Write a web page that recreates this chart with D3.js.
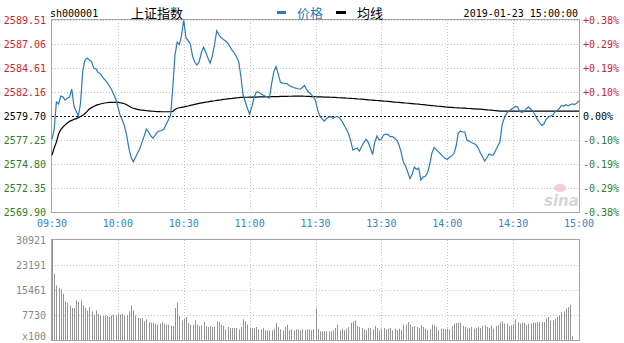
<!DOCTYPE html>
<html>
<head>
<meta charset="utf-8">
<script src="https://cdn.jsdelivr.net/npm/d3@7"></script>
<style>
  body { margin: 0; background: #fff; }
  svg { display: block; }
  text { font-family: "DejaVu Sans Mono", monospace; font-size: 10px; }
  .cjk { font-family: "Noto Sans CJK SC", sans-serif; font-size: 13px; }
</style>
</head>
<body>
<div id="chart"></div>
<script>
const prevClose = 2579.70;
const priceTicks = [2589.51, 2587.06, 2584.61, 2582.16, 2579.70, 2577.25, 2574.80, 2572.35, 2569.90];
const pctLabels = ["+0.38%", "+0.29%", "+0.19%", "+0.10%", "0.00%", "-0.10%", "-0.19%", "-0.29%", "-0.38%"];
const timeLabels = ["09:30", "10:00", "10:30", "11:00", "11:30", "13:30", "14:00", "14:30", "15:00"];
const volTicks = [30921, 23191, 15461, 7730, 0];
const volLabels = ["30921", "23191", "15461", "7730", "x100"];

// one value per minute, 09:30 .. 11:30 | 13:00 .. 15:00
const prices = [
  2577.35, 2578.37, 2581.13, 2580.93, 2581.74, 2581.64, 2581.33, 2581.54, 2581.64, 2582.46,
  2580.72, 2580.21, 2579.70, 2581.03, 2584.30, 2585.42, 2585.62, 2585.42, 2585.27, 2584.60,
  2584.50, 2584.14, 2584.04, 2583.68, 2583.43, 2583.17, 2582.82, 2582.46, 2581.98, 2581.44,
  2580.67, 2579.80, 2579.29, 2578.68, 2577.76, 2576.43, 2575.51, 2575.03, 2575.46, 2575.92,
  2576.38, 2577.04, 2577.66, 2578.37, 2578.07, 2577.66, 2577.45, 2577.76, 2578.07, 2578.17,
  2578.22, 2578.37, 2578.88, 2579.29, 2579.80, 2582.56, 2585.93, 2587.26, 2587.00, 2587.97,
  2589.51, 2587.72, 2587.41, 2587.05, 2585.83, 2585.22, 2584.91, 2585.22, 2586.14, 2586.75,
  2586.24, 2585.62, 2585.11, 2585.83, 2586.95, 2588.41, 2588.00, 2587.72, 2587.53, 2587.36,
  2587.16, 2586.80, 2586.44, 2586.14, 2585.78, 2585.27, 2583.79, 2581.85, 2581.18, 2580.47,
  2579.90, 2580.67, 2581.54, 2582.15, 2582.15, 2582.00, 2581.85, 2581.74, 2581.64, 2581.54,
  2582.97, 2584.19, 2584.76, 2584.04, 2583.17, 2583.07, 2583.04, 2583.02, 2582.82, 2582.71,
  2582.62, 2582.56, 2582.49, 2582.44, 2582.61, 2582.82, 2582.36, 2582.13, 2581.91, 2581.67,
  2581.28, 2580.31, 2579.65, 2579.41, 2579.19, 2579.43, 2579.60, 2579.64, 2579.48, 2579.60,
  2579.65, 2579.50, 2579.19, 2578.78, 2578.37, 2577.91, 2577.25, 2576.23, 2576.33, 2576.43,
  2576.13, 2576.59, 2576.99, 2577.32, 2577.04, 2576.43, 2575.77, 2577.04, 2577.66, 2577.25,
  2577.35, 2577.76, 2577.86, 2577.81, 2577.59, 2577.59, 2577.45, 2577.25, 2576.77, 2576.02,
  2575.00, 2574.59, 2573.98, 2573.32, 2573.72, 2574.49, 2574.24, 2574.39, 2573.16, 2573.47,
  2573.54, 2573.88, 2574.75, 2575.92, 2576.48, 2576.27, 2576.04, 2575.82, 2575.58, 2575.39,
  2575.26, 2575.49, 2575.63, 2575.87, 2576.59, 2577.93, 2578.17, 2578.07, 2578.07, 2577.25,
  2577.12, 2576.99, 2576.89, 2576.79, 2576.48, 2575.97, 2575.56, 2575.10, 2575.41, 2575.82,
  2575.72, 2575.74, 2576.18, 2576.64, 2577.08, 2578.83, 2579.50, 2579.97, 2580.19, 2580.36,
  2580.49, 2580.69, 2580.64, 2580.17, 2580.08, 2580.16, 2580.45, 2580.63, 2580.42, 2580.19,
  2579.80, 2579.36, 2579.04, 2578.75, 2578.88, 2579.37, 2579.57, 2579.71, 2579.78, 2580.11,
  2580.25, 2580.46, 2580.79, 2580.72, 2580.85, 2580.75, 2580.86, 2580.95, 2580.88, 2581.02, 2581.28
];

const avgPrices = [
  2575.72, 2576.43, 2577.04, 2577.86, 2578.32, 2578.58, 2578.80, 2578.99, 2579.16, 2579.26,
  2579.36, 2579.44, 2579.54, 2579.65, 2579.77, 2579.96, 2580.18, 2580.42, 2580.56, 2580.68,
  2580.79, 2580.87, 2580.93, 2580.98, 2581.03, 2581.06, 2581.09, 2581.10, 2581.10, 2581.10,
  2581.09, 2581.06, 2581.02, 2580.96, 2580.86, 2580.72, 2580.60, 2580.50, 2580.44, 2580.38,
  2580.34, 2580.31, 2580.28, 2580.25, 2580.23, 2580.21, 2580.19, 2580.17, 2580.16, 2580.15,
  2580.14, 2580.14, 2580.14, 2580.14, 2580.15, 2580.18, 2580.36, 2580.50, 2580.55, 2580.59,
  2580.63, 2580.68, 2580.73, 2580.79, 2580.84, 2580.90, 2580.95, 2581.00, 2581.04, 2581.08,
  2581.12, 2581.15, 2581.19, 2581.23, 2581.26, 2581.30, 2581.33, 2581.36, 2581.40, 2581.42,
  2581.45, 2581.48, 2581.50, 2581.53, 2581.56, 2581.58, 2581.61, 2581.61, 2581.62, 2581.62,
  2581.63, 2581.63, 2581.64, 2581.64, 2581.65, 2581.65, 2581.66, 2581.66, 2581.67, 2581.67,
  2581.68, 2581.68, 2581.69, 2581.69, 2581.70, 2581.70, 2581.71, 2581.71, 2581.72, 2581.72,
  2581.73, 2581.73, 2581.74, 2581.74, 2581.73, 2581.72, 2581.71, 2581.70, 2581.69, 2581.68,
  2581.67, 2581.66, 2581.66, 2581.65, 2581.64, 2581.63, 2581.63, 2581.62, 2581.61, 2581.60,
  2581.58, 2581.57, 2581.56, 2581.55, 2581.53, 2581.52, 2581.51, 2581.49, 2581.47, 2581.45,
  2581.44, 2581.42, 2581.40, 2581.38, 2581.36, 2581.34, 2581.33, 2581.31, 2581.29, 2581.27,
  2581.25, 2581.23, 2581.21, 2581.19, 2581.17, 2581.15, 2581.13, 2581.11, 2581.09, 2581.07,
  2581.05, 2581.03, 2581.01, 2580.99, 2580.97, 2580.95, 2580.93, 2580.91, 2580.88, 2580.86,
  2580.84, 2580.81, 2580.79, 2580.77, 2580.75, 2580.72, 2580.70, 2580.68, 2580.66, 2580.63,
  2580.61, 2580.59, 2580.58, 2580.56, 2580.55, 2580.54, 2580.52, 2580.51, 2580.50, 2580.48,
  2580.47, 2580.46, 2580.44, 2580.43, 2580.41, 2580.40, 2580.38, 2580.36, 2580.34, 2580.32,
  2580.30, 2580.27, 2580.25, 2580.23, 2580.21, 2580.21, 2580.20, 2580.20, 2580.20, 2580.20,
  2580.20, 2580.20, 2580.20, 2580.20, 2580.20, 2580.20, 2580.20, 2580.20, 2580.20, 2580.20,
  2580.20, 2580.20, 2580.20, 2580.20, 2580.20, 2580.20, 2580.20, 2580.20, 2580.20, 2580.20,
  2580.20, 2580.20, 2580.20, 2580.20, 2580.20, 2580.20, 2580.20, 2580.20, 2580.20, 2580.20, 2580.20
];

// volume, in lots of 100
const volumes = [
  30921, 20511, 16903, 16079, 15667, 14327, 11956, 11544, 10719, 9895,
  9895, 12265, 11750, 12265, 10719, 9895, 9173, 10204, 8864, 7833,
  9173, 8143, 7421, 7421, 7627, 7421, 7112, 7627, 7833, 7627,
  8143, 7833, 8143, 7627, 7627, 8864, 10719, 9173, 7627, 6803,
  6596, 6803, 5772, 6390, 5566, 5360, 5360, 5050, 4741, 5050,
  5566, 5050, 4741, 4741, 4329, 4329, 9895, 11544, 7421, 6081,
  6596, 7112, 5360, 4741, 4741, 6081, 4741, 4329, 4535, 5566,
  4329, 4020, 4329, 4020, 4020, 5772, 5566, 4741, 4329, 3298,
  4020, 3711, 3711, 3711, 3711, 3298, 4020, 6390, 5772, 4741,
  3711, 3711, 3711, 4020, 3298, 3298, 3711, 2989, 2989, 2989,
  2989, 3504, 5257, 4020, 3298, 2989, 4020, 4741, 2989, 3298,
  2989, 3298, 3298, 2989, 3298, 2989, 3298, 3298, 2989, 3298,
  9700, 3504, 2680, 2680, 2680, 2680, 2680, 2680, 2989, 3711,
  4741, 2989, 3504, 2989, 3504, 4020, 5360, 5772, 6081, 4329,
  4020, 3711, 3298, 2989, 3711, 3711, 3298, 4329, 3711, 2989,
  3504, 3711, 3298, 3504, 3711, 2989, 3504, 2989, 3504, 2989,
  4741, 4741, 5566, 4741, 4020, 4329, 4020, 3711, 4535, 4020,
  3504, 2989, 3298, 4741, 4535, 4020, 2989, 3504, 3504, 3298,
  3504, 3298, 4329, 5050, 5257, 5360, 5360, 4329, 4020, 3504,
  3711, 4020, 3504, 3711, 4020, 3711, 4329, 4535, 4020, 3711,
  4535, 3504, 4329, 4535, 5360, 5772, 5050, 5050, 4329, 4535,
  4741, 6390, 5566, 5050, 5360, 5360, 4741, 5050, 5050, 5360,
  5360, 5566, 5566, 5566, 5566, 6596, 7112, 6081, 6081, 6596,
  7112, 7421, 8658, 8864, 9689, 10204, 10925, 1237, 0, 0, 0
];

const W = 624, H = 343;
const left = 52, right = 579;
const priceTop = 20, priceBottom = 212;
const volTop = 240, volBottom = 340;

const red = "#cc1f2f", green = "#2f7d2a", blue = "#2b7bb5", grey = "#888";

const svg = d3.select("#chart").append("svg")
  .attr("width", W)
  .attr("height", H);

const x = d3.scaleLinear().domain([0, prices.length - 1]).range([left, right]);
const y = d3.scaleLinear().domain([priceTicks[priceTicks.length - 1], priceTicks[0]]).range([priceBottom, priceTop]);
const yv = d3.scaleLinear().domain([0, volTicks[0]]).range([volBottom, volTop]);
const timeIdx = timeLabels.map((d, i) => i * 30);

const crisp = v => Math.round(v) + 0.5;

// ---- price panel grid ----
const grid = svg.append("g");
grid.selectAll("line.h")
  .data(priceTicks.filter(d => d !== prevClose))
  .enter().append("line")
  .attr("x1", left).attr("x2", right)
  .attr("y1", d => crisp(y(d))).attr("y2", d => crisp(y(d)))
  .attr("stroke", "#c4c4c4")
  .attr("stroke-dasharray", "1,2");

grid.selectAll("line.v")
  .data(timeIdx.slice(1, -1))
  .enter().append("line")
  .attr("x1", d => crisp(x(d))).attr("x2", d => crisp(x(d)))
  .attr("y1", priceTop).attr("y2", priceBottom)
  .attr("stroke", "#c4c4c4")
  .attr("stroke-dasharray", "1,2");

svg.append("rect")
  .attr("x", left - 0.5).attr("y", priceTop - 0.5)
  .attr("width", right - left + 1).attr("height", priceBottom - priceTop + 1)
  .attr("fill", "none").attr("stroke", "#a6a6a6");

// previous close
svg.append("line")
  .attr("x1", left).attr("x2", right)
  .attr("y1", crisp(y(prevClose))).attr("y2", crisp(y(prevClose)))
  .attr("stroke", "#000")
  .attr("stroke-dasharray", "2,2");

// sina watermark
const logo = svg.append("g").attr("opacity", 0.55);
logo.append("ellipse").attr("cx", 560).attr("cy", 188).attr("rx", 6).attr("ry", 4).attr("fill", "#f2a9a9");
logo.append("text")
  .attr("x", 544).attr("y", 206)
  .style("font-family", "DejaVu Sans, sans-serif")
  .style("font-size", "15px")
  .style("font-style", "italic")
  .style("font-weight", "bold")
  .attr("fill", "#b5b5b5")
  .text("sina");

// average line
svg.append("path")
  .datum(avgPrices)
  .attr("fill", "none")
  .attr("stroke", "#000")
  .attr("stroke-width", 1.2)
  .attr("d", d3.line().x((d, i) => x(i)).y(d => y(d)));

// price line
svg.append("path")
  .datum(prices)
  .attr("fill", "none")
  .attr("stroke", blue)
  .attr("stroke-width", 1.2)
  .attr("d", d3.line().x((d, i) => x(i)).y(d => y(d)));

// price axis labels
const tickColor = d => d > prevClose ? red : (d < prevClose ? green : "#000");
svg.append("g").selectAll("text")
  .data(priceTicks)
  .enter().append("text")
  .attr("x", 46)
  .attr("y", d => y(d))
  .attr("dy", "0.36em")
  .attr("text-anchor", "end")
  .attr("fill", tickColor)
  .text(d => d3.format(".2f")(d));

svg.append("g").selectAll("text")
  .data(priceTicks)
  .enter().append("text")
  .attr("x", 583)
  .attr("y", d => y(d))
  .attr("dy", "0.36em")
  .attr("fill", tickColor)
  .text((d, i) => pctLabels[i]);

// time labels
svg.append("g").selectAll("text")
  .data(timeLabels)
  .enter().append("text")
  .attr("x", (d, i) => x(timeIdx[i]))
  .attr("y", 227)
  .attr("text-anchor", "middle")
  .attr("fill", "#3a84bd")
  .text(d => d);

// ---- volume panel ----
const vgrid = svg.append("g");
vgrid.selectAll("line.h")
  .data(volTicks.slice(1, -1))
  .enter().append("line")
  .attr("x1", left).attr("x2", right)
  .attr("y1", d => crisp(yv(d))).attr("y2", d => crisp(yv(d)))
  .attr("stroke", "#c4c4c4")
  .attr("stroke-dasharray", "1,2");

vgrid.selectAll("line.v")
  .data(timeIdx.slice(1, -1))
  .enter().append("line")
  .attr("x1", d => crisp(x(d))).attr("x2", d => crisp(x(d)))
  .attr("y1", volTop).attr("y2", volBottom)
  .attr("stroke", "#c4c4c4")
  .attr("stroke-dasharray", "1,2");

svg.append("g").selectAll("rect")
  .data(volumes)
  .enter().append("rect")
  .attr("x", (d, i) => Math.round(x(i)))
  .attr("y", d => yv(d))
  .attr("width", 1)
  .attr("height", d => volBottom - yv(d))
  .attr("fill", "#939393");

svg.append("rect")
  .attr("x", left - 0.5).attr("y", volTop - 0.5)
  .attr("width", right - left + 1).attr("height", volBottom - volTop + 1)
  .attr("fill", "none").attr("stroke", "#a6a6a6");

// bottom label sits a little higher so it stays inside the page
svg.append("g").selectAll("text")
  .data(volTicks)
  .enter().append("text")
  .attr("x", 46)
  .attr("y", d => Math.min(yv(d), 336))
  .attr("dy", "0.36em")
  .attr("text-anchor", "end")
  .attr("fill", grey)
  .text((d, i) => volLabels[i]);

// ---- header ----
svg.append("text").attr("x", 50).attr("y", 17).attr("fill", "#000").text("sh000001");
svg.append("text").attr("class", "cjk").attr("x", 131).attr("y", 18).attr("fill", "#000").text("上证指数");

svg.append("rect").attr("x", 277).attr("y", 11).attr("width", 9).attr("height", 3).attr("fill", blue);
svg.append("text").attr("class", "cjk").attr("x", 297).attr("y", 18).attr("fill", blue).text("价格");
svg.append("rect").attr("x", 336).attr("y", 11).attr("width", 10).attr("height", 3).attr("fill", "#000");
svg.append("text").attr("class", "cjk").attr("x", 357).attr("y", 18).attr("fill", "#000").text("均线");

svg.append("text")
  .attr("x", 578).attr("y", 17)
  .attr("text-anchor", "end")
  .attr("fill", "#000")
  .text("2019-01-23 15:00:00");
</script>
</body>
</html>
